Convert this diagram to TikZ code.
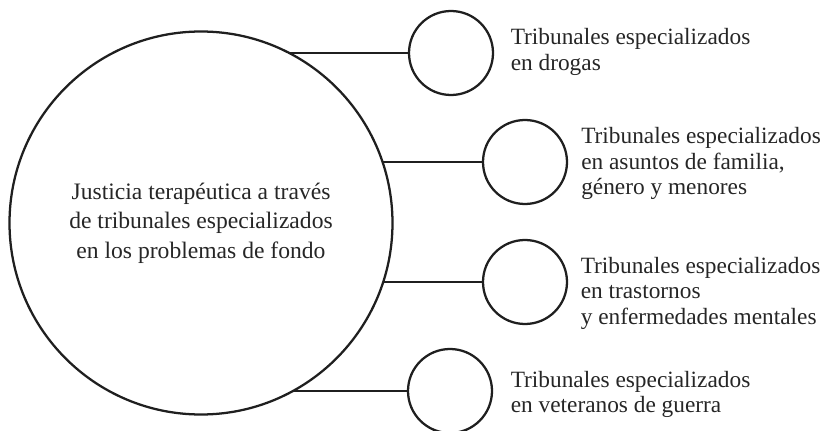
\documentclass[tikz,border=0pt]{standalone}
\usepackage{fontspec}
\setmainfont{Liberation Serif}
\begin{document}
\begin{tikzpicture}[x=0.75pt,y=-0.75pt,
  ring/.style={circle, draw=black!88, line width=1.7pt, inner sep=0pt, outer sep=0pt},
  smallring/.style={ring, minimum size=63pt},
  lbl/.style={anchor=north west, align=left, inner sep=0pt, text=black!85,
              font=\fontsize{17.5}{19.1}\selectfont},
  link/.style={draw=black!88, line width=1.7pt}]
\useasboundingbox (0,0) rectangle (825,431);
\node[ring, minimum size=287.25pt, align=center, text=black!85,
      font=\fontsize{17.7}{22}\selectfont] (big) at (201,223)
  {Justicia terapéutica a través\\de tribunales especializados\\en los problemas de fondo};
\node[smallring] (c1) at (451,53) {};
\node[smallring] (c2) at (525,162) {};
\node[smallring] (c3) at (525,282) {};
\node[smallring] (c4) at (450,391) {};
\draw[link] (c1.west) -- (c1.west -| big.63);
\draw[link] (c2.west) -- (c2.west -| big.18);
\draw[link] (c3.west) -- (c3.west -| big.-18);
\draw[link] (c4.west) -- (c4.west -| big.-61);
\node[lbl] (t1) at (510.5,28.4) {Tribunales especializados\\en drogas};
\node[lbl] (t2) at (581,127.4) {Tribunales especializados\\en asuntos de familia,\\género y menores};
\node[lbl] (t3) at (580.5,256.8) {Tribunales especializados\\en trastornos\\y enfermedades mentales};
\node[lbl] (t4) at (510.5,370.8) {Tribunales especializados\\en veteranos de guerra};
\end{tikzpicture}
\end{document}
